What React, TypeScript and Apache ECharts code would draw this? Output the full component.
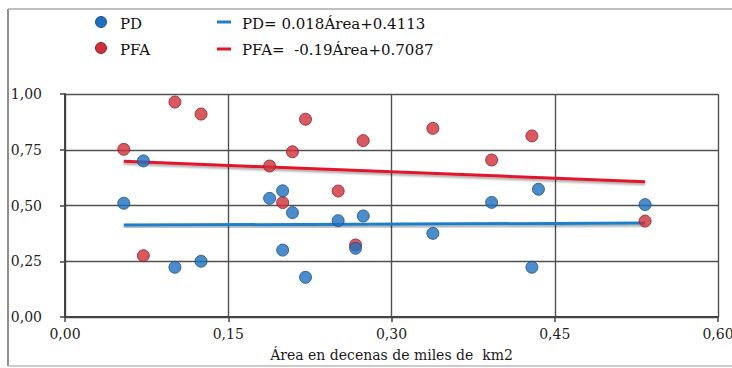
import React, { useEffect, useRef } from "react";
import * as echarts from "echarts";

const xTicks = [0, 0.15, 0.3, 0.45, 0.6];
const yTicks = [0, 0.25, 0.5, 0.75, 1.0];

// PD points [area, value]
const pdArea = [0.054, 0.072, 0.188, 0.2, 0.209, 0.251, 0.274, 0.392, 0.435, 0.533, 0.101, 0.125, 0.2, 0.221, 0.267, 0.338, 0.429];
const pdValue = [0.51, 0.7, 0.532, 0.566, 0.468, 0.432, 0.453, 0.514, 0.573, 0.504, 0.223, 0.25, 0.3, 0.178, 0.308, 0.375, 0.223];

// PFA points
const pfaArea = [0.054, 0.101, 0.125, 0.221, 0.209, 0.188, 0.2, 0.251, 0.274, 0.338, 0.429, 0.392, 0.533, 0.072, 0.267];
const pfaValue = [0.752, 0.964, 0.91, 0.887, 0.741, 0.677, 0.513, 0.565, 0.791, 0.846, 0.812, 0.704, 0.43, 0.275, 0.323];

// Trend lines (end points)
const pdTrendArea = [0.054, 0.533];
const pdTrendValue = [0.412, 0.421];
const pfaTrendArea = [0.054, 0.533];
const pfaTrendValue = [0.698, 0.607];

const legendLabels = ["PD", "PFA"];
const equationLabels = ["PD= 0.018Área+0.4113", "PFA=  -0.19Área+0.7087"];
const xAxisTitle = "Área en decenas de miles de  km2";

const BLUE = "#1f6fbd";
const BLUE_BORDER = "#17508a";
const RED = "#d02f3a";
const RED_BORDER = "#8f1f28";
const FONT = "'DejaVu Serif', 'Liberation Serif', 'Times New Roman', serif";
const FS = 14;

const zip = (a: number[], b: number[]) => a.map((v, i) => [v, b[i]]);
const fmt = (v: number) => v.toFixed(2).replace(".", ",");

export default function App() {
  const ref = useRef<HTMLDivElement>(null);

  useEffect(() => {
    if (!ref.current) return;
    const chart = echarts.init(ref.current, undefined, { renderer: "svg" });
    const legendText = (x: number, y: number, text: string) => ({
      type: "text",
      x,
      y,
      style: { text, fontFamily: FONT, fontSize: 15, fill: "#111", verticalAlign: "middle" },
    });
    const option: any = {
      animation: false,
      backgroundColor: "#ffffff",
      textStyle: { fontFamily: FONT },
      grid: { left: 65, right: 14, top: 94, bottom: 51, containLabel: false, outerBoundsMode: "none" },
      xAxis: {
        type: "value",
        min: xTicks[0],
        max: xTicks[xTicks.length - 1],
        interval: 0.15,
        name: xAxisTitle,
        nameLocation: "middle",
        nameGap: 31,
        nameTextStyle: { fontFamily: FONT, fontSize: FS, color: "#1a1a1a" },
        axisLine: { show: true, lineStyle: { color: "#444", width: 2 } },
        axisTick: { show: true, length: 5, lineStyle: { color: "#444", width: 1.5 } },
        axisLabel: {
          formatter: fmt,
          fontFamily: FONT,
          fontSize: FS,
          color: "#222",
          margin: 10,
          hideOverlap: false,
        },
        splitLine: { show: true, lineStyle: { color: "#505050", width: 1.4 } },
      },
      yAxis: {
        type: "value",
        min: yTicks[0],
        max: yTicks[yTicks.length - 1],
        interval: 0.25,
        axisLine: { show: true, lineStyle: { color: "#444", width: 2 } },
        axisTick: { show: true, length: 5, lineStyle: { color: "#444", width: 1.5 } },
        axisLabel: {
          formatter: fmt,
          fontFamily: FONT,
          fontSize: FS,
          color: "#222",
          margin: 23,
        },
        splitLine: { show: true, lineStyle: { color: "#505050", width: 1.4 } },
      },
      series: [
        {
          name: "PD trend",
          type: "line",
          z: 1,
          data: zip(pdTrendArea, pdTrendValue),
          symbol: "none",
          lineStyle: {
            color: "#1a7fc8",
            width: 3,
            shadowColor: "rgba(0,0,0,0.35)",
            shadowBlur: 2,
            shadowOffsetY: 2,
          },
        },
        {
          name: "PFA trend",
          type: "line",
          z: 1,
          data: zip(pfaTrendArea, pfaTrendValue),
          symbol: "none",
          lineStyle: {
            color: "#e0162b",
            width: 3,
            shadowColor: "rgba(0,0,0,0.35)",
            shadowBlur: 2,
            shadowOffsetY: 2,
          },
        },
        {
          name: "PFA",
          type: "scatter",
          z: 3,
          data: zip(pfaArea, pfaValue),
          symbolSize: 12,
          itemStyle: { color: RED, borderColor: RED_BORDER, borderWidth: 1 },
        },
        {
          name: "PD",
          type: "scatter",
          z: 3,
          data: zip(pdArea, pdValue),
          symbolSize: 12,
          itemStyle: { color: BLUE, borderColor: BLUE_BORDER, borderWidth: 1 },
        },
      ],
      graphic: [
        // outer frame
        { type: "line", shape: { x1: 8, y1: 9, x2: 8, y2: 366 }, style: { stroke: "#6a6a6a", lineWidth: 1.5 } },
        { type: "line", shape: { x1: 8, y1: 9, x2: 732, y2: 9 }, style: { stroke: "#aaaaaa", lineWidth: 1.5 } },
        { type: "line", shape: { x1: 8, y1: 366, x2: 732, y2: 366 }, style: { stroke: "#bbbbbb", lineWidth: 1.5 } },
        // legend markers
        { type: "circle", shape: { cx: 101, cy: 22, r: 5.5 }, style: { fill: BLUE, stroke: BLUE_BORDER, lineWidth: 1 } },
        { type: "circle", shape: { cx: 101, cy: 48, r: 5.5 }, style: { fill: RED, stroke: RED_BORDER, lineWidth: 1 } },
        legendText(120, 24, legendLabels[0]),
        legendText(120, 50, legendLabels[1]),
        { type: "line", shape: { x1: 217, y1: 22, x2: 231, y2: 22 }, style: { stroke: "#1a7fc8", lineWidth: 3 } },
        { type: "line", shape: { x1: 217, y1: 49, x2: 231, y2: 49 }, style: { stroke: "#e0162b", lineWidth: 3 } },
        legendText(242, 24, equationLabels[0]),
        legendText(242, 50, equationLabels[1]),
      ],
    };
    chart.setOption(option);
    return () => chart.dispose();
  }, []);

  return (
    <div
      ref={ref}
      style={{ position: "fixed", left: 0, top: 0, width: 732, height: 368, background: "#fff" }}
    />
  );
}
